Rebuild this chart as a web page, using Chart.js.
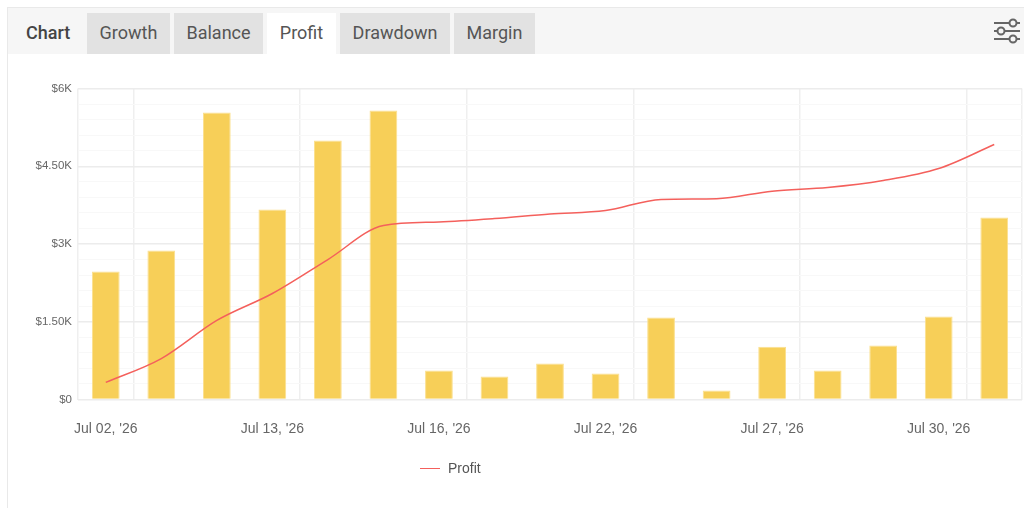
<!DOCTYPE html>
<html>
<head>
<meta charset="utf-8">
<title>Profit</title>
<script src="https://cdn.jsdelivr.net/npm/chart.js@4"></script>
<style>
html, body { margin: 0; padding: 0; background: #fff; }
body { width: 1024px; height: 508px; position: relative; overflow: hidden; font-family: Roboto, sans-serif; }
#frame { position: absolute; left: 7px; top: 7px; width: 1017px; height: 501px; border-left: 1px solid #e9e9e9; border-top: 1px solid #e9e9e9; box-sizing: border-box; }
#head { position: absolute; left: 8px; top: 8px; width: 1016px; height: 46px; background: #f6f6f6; }
.tab { position: absolute; top: 13px; height: 41px; line-height: 40px; text-align: center; font-size: 18px; color: #555; background: #e2e2e2; }
.tab.on { background: #fff; }
#title { position: absolute; left: 26px; top: 13px; line-height: 40px; font-size: 18px; font-weight: 500; color: #444; }
#icon { position: absolute; left: 993px; top: 18px; }
#wrap { position: absolute; left: 0; top: 0; width: 1024px; height: 508px; }
#legend { position: absolute; left: 420px; top: 460px; font: 14px "Liberation Sans", Arial, sans-serif; color: #555; line-height: 17px; }
#legend i { display: inline-block; width: 20px; height: 0; border-top: 1.5px solid #f4605c; vertical-align: 4px; margin-right: 8px; }
</style>
</head>
<body>
<div id="frame"></div>
<div id="head"></div>
<div id="title">Chart</div>
<div class="tab" style="left:87px;width:83px">Growth</div>
<div class="tab" style="left:174px;width:89px">Balance</div>
<div class="tab on" style="left:267px;width:69px">Profit</div>
<div class="tab" style="left:340px;width:110px">Drawdown</div>
<div class="tab" style="left:454px;width:81px">Margin</div>
<svg id="icon" width="28" height="26" viewBox="0 0 28 26" fill="none" stroke="#666" stroke-width="2">
  <path d="M1 5H16M24 5H27M1 13H4M12 13H27M1 21H16M24 21H27"/>
  <circle cx="20" cy="5" r="3.5"/><circle cx="8" cy="13" r="3.5"/><circle cx="20" cy="21" r="3.5"/>
</svg>
<div id="wrap"><canvas id="profitChart" width="1024" height="508"></canvas></div>
<div id="legend"><i></i>Profit</div>
<script>
const categories = ["Jul 02, '26", "Jul 06, '26", "Jul 08, '26", "Jul 13, '26", "Jul 14, '26", "Jul 15, '26", "Jul 16, '26", "Jul 20, '26", "Jul 21, '26", "Jul 22, '26", "Jul 23, '26", "Jul 24, '26", "Jul 27, '26", "Jul 28, '26", "Jul 29, '26", "Jul 30, '26", "Jul 31, '26"];
const dailyProfit = [2470, 2875, 5537, 3665, 4997, 5575, 560, 445, 695, 500, 1580, 175, 1020, 560, 1040, 1600, 3510];
const cumulativeProfit = [330, 790, 1525, 2045, 2700, 3355, 3425, 3490, 3580, 3645, 3860, 3875, 4020, 4090, 4225, 4455, 4920];
const yLabels = { 0: '$0', 1500: '$1.50K', 3000: '$3K', 4500: '$4.50K', 6000: '$6K' };

const ctx = document.getElementById('profitChart').getContext('2d');
new Chart(ctx, {
    type: 'bar',
    data: {
        labels: categories,
        datasets: [{
            type: 'line',
            label: 'Profit',
            data: cumulativeProfit,
            borderColor: '#f4605c',
            borderWidth: 1.5,
            pointRadius: 0,
            cubicInterpolationMode: 'monotone',
            order: 0
        }, {
            label: 'Daily',
            data: dailyProfit,
            backgroundColor: '#f7cf58',
            borderColor: '#fbe08f',
            borderWidth: 1,
            categoryPercentage: 1,
            barPercentage: 0.5,
            order: 1
        }]
    },
    options: {
        responsive: false,
        animation: false,
        layout: { padding: { left: 0, right: 2, top: 88.5, bottom: 0 } },
        plugins: { legend: { display: false }, tooltip: { enabled: false } },
        scales: {
            x: {
                afterFit: function(s) { s.height = 108.5; },
                border: { display: false },
                grid: {
                    offset: true,
                    drawTicks: false,
                    lineWidth: 1.5,
                    // only every third boundary gets a vertical line
                    color: function(c) {
                        if (c.index === undefined || c.index === 0) return '#efefef';
                        return c.index % 3 === 1 ? '#efefef' : 'rgba(0,0,0,0)';
                    }
                },
                ticks: {
                    autoSkip: false,
                    maxRotation: 0,
                    padding: 21,
                    color: '#666',
                    font: { family: 'Liberation Sans', size: 14 },
                    callback: function(v, i) { return i % 3 === 0 ? categories[i] : ''; }
                }
            },
            y: {
                min: 0,
                max: 6000,
                afterFit: function(s) { s.width = 78; },
                border: { display: false },
                grid: {
                    drawTicks: false,
                    lineWidth: function(c) { return c.tick.value % 1500 === 0 ? 1.5 : 1; },
                    color: function(c) { return c.tick.value % 1500 === 0 ? '#ececec' : '#f8f8f8'; }
                },
                ticks: {
                    stepSize: 300,
                    autoSkip: false,
                    padding: 6,
                    color: '#666',
                    font: { family: 'Liberation Sans', size: 11.5 },
                    callback: function(v) { return yLabels[v] || ''; }
                }
            }
        }
    }
});
</script>
</body>
</html>
